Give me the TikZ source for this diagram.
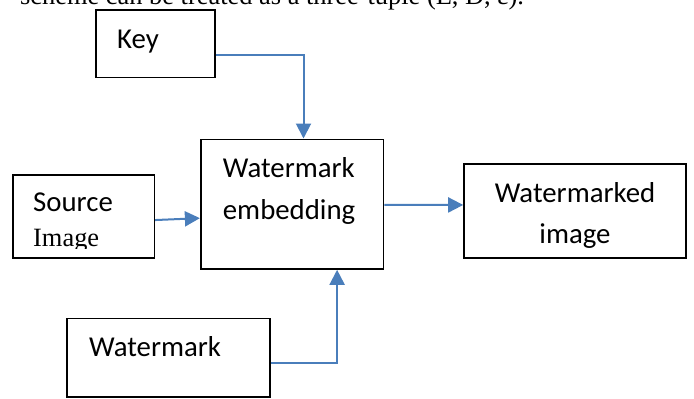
\documentclass[tikz,border=0pt]{standalone}
\usepackage{fontspec}
\setmainfont{Liberation Serif}
\newfontfamily\calib{Carlito}
\usetikzlibrary{arrows.meta}
\definecolor{lineblue}{RGB}{74,126,187}
\tikzset{
  boxnode/.style={draw=black, line width=1.6pt, inner sep=0pt, fill=none},
  cal/.style={font=\calib\fontsize{28.8}{34}\selectfont, inner sep=0pt},
  tms/.style={font=\fontsize{26.4}{32}\selectfont, inner sep=0pt},
  conn/.style={draw=lineblue, line width=2pt, -{Triangle[length=15pt,width=15pt]}},
}
\begin{document}
\begin{tikzpicture}[x=1pt,y=-1pt]
\useasboundingbox (0,0) rectangle (694,399);
\begin{scope}
\clip (0,0) rectangle (694,399);
% top cut-off sentence
\node[tms, anchor=base west] (toptext) at (20,4) {scheme can be treated as a three-tuple (E, D, ε).};

% boxes
\node[boxnode, minimum width=119.3pt, minimum height=67.3pt] (key) at (155.35,43.65) {};
\node[boxnode, minimum width=141.3pt, minimum height=82.7pt] (source) at (83.65,216.35) {};
\node[boxnode, minimum width=182.8pt, minimum height=129.7pt] (embed) at (292.1,204.15) {};
\node[boxnode, minimum width=222pt, minimum height=93.7pt] (wmd) at (575,210.85) {};
\node[boxnode, minimum width=203.3pt, minimum height=78.7pt] (wm) at (168.35,357.65) {};

% texts
\node[cal, anchor=base west] (keytxt) at (117,48.3) {Key};
\node[cal, anchor=base west] (srctxt) at (33,211) {Source};
\begin{scope}
\clip (13,175) rectangle (154,248);
\node[tms, anchor=base west] (imgtxt) at (33,246.7) {Image};
\end{scope}
\node[cal, anchor=base west] (embtxtA) at (222.7,177.3) {Watermark};
\node[cal, anchor=base west] (embtxtB) at (222.7,219.3) {embedding};
\node[cal, anchor=base] (wmdtxtA) at (575,202.7) {Watermarked};
\node[cal, anchor=base] (wmdtxtB) at (575,243.3) {image};
\node[cal, anchor=base west] (wmtxt) at (89,356.7) {Watermark};
\end{scope}

% connectors
\draw[conn] ([yshift=-11.4pt]key.east) -| ([xshift=11.4pt]embed.north);
\draw[conn] ([yshift=-3.7pt]source.east) -- ([yshift=-14pt]embed.west);
\draw[conn] ([yshift=-0.8pt]embed.east) -- ([yshift=5.9pt]wmd.west);
\draw[conn] ([yshift=-5pt]wm.east) -| ([xshift=45pt]embed.south);
\end{tikzpicture}
\end{document}
